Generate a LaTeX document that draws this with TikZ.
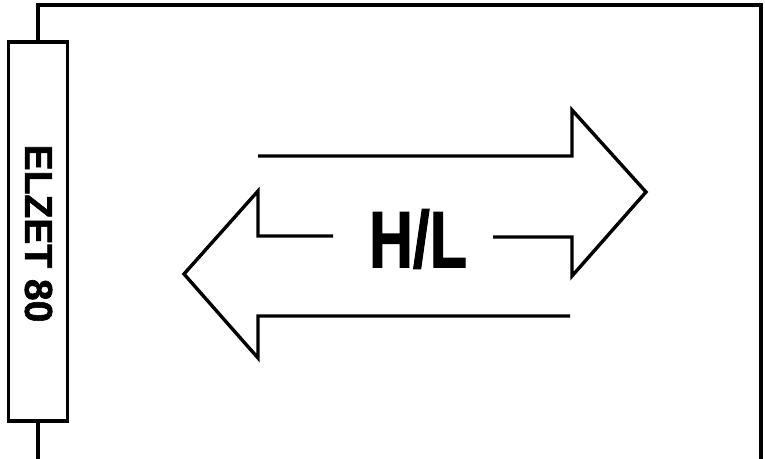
\documentclass[tikz,border=0pt]{standalone}
\usepackage{fontspec}
\setmainfont{Liberation Sans}
\newfontfamily\heavyfont[FakeBold=1.5]{Liberation Sans Bold}
\usetikzlibrary{positioning,calc}

\begin{document}
\begin{tikzpicture}[
  x=1pt, y=-1pt,
  frame/.style={line width=3.4pt},
  module/.style={draw, line width=3.4pt, minimum width=59pt, minimum height=379pt, inner sep=0pt},
  outline/.style={line width=3.4pt, line join=miter, miter limit=10},
  bigtext/.style={font=\heavyfont\fontsize{80}{80}\selectfont, inner sep=0pt},
]
  \useasboundingbox (0,0) rectangle (765,458);

  % card edge with the front panel
  \node[module] (elzet) at (38,231.5) {};
  \node[rotate=-90, inner sep=0pt, font=\heavyfont\fontsize{39}{39}\selectfont] (name)
    at ($(elzet.center)+(0.5,2)$) {ELZET 80};
  \coordinate (topleft) at (elzet.north |- 0,5);
  \coordinate (botleft) at (elzet.south |- 0,460);
  \draw[frame] (elzet.north) -- (topleft) -| (761,460);
  \draw[frame] (elzet.south) -- (botleft);

  % double arrow
  \node[bigtext] (hl) at (418,239) {\scalebox{0.76}[1]{H/L}};
  \draw[outline] (258,156) -- (572,156) -- (572,110) -- (646,192) -- (572,276) -- (572,237) -- (493,237);
  \draw[outline] (333,236) -- (258,236) -- (258,191) -- (184,274) -- (258,358) -- (258,316) -- (570,316);
\end{tikzpicture}
\end{document}
